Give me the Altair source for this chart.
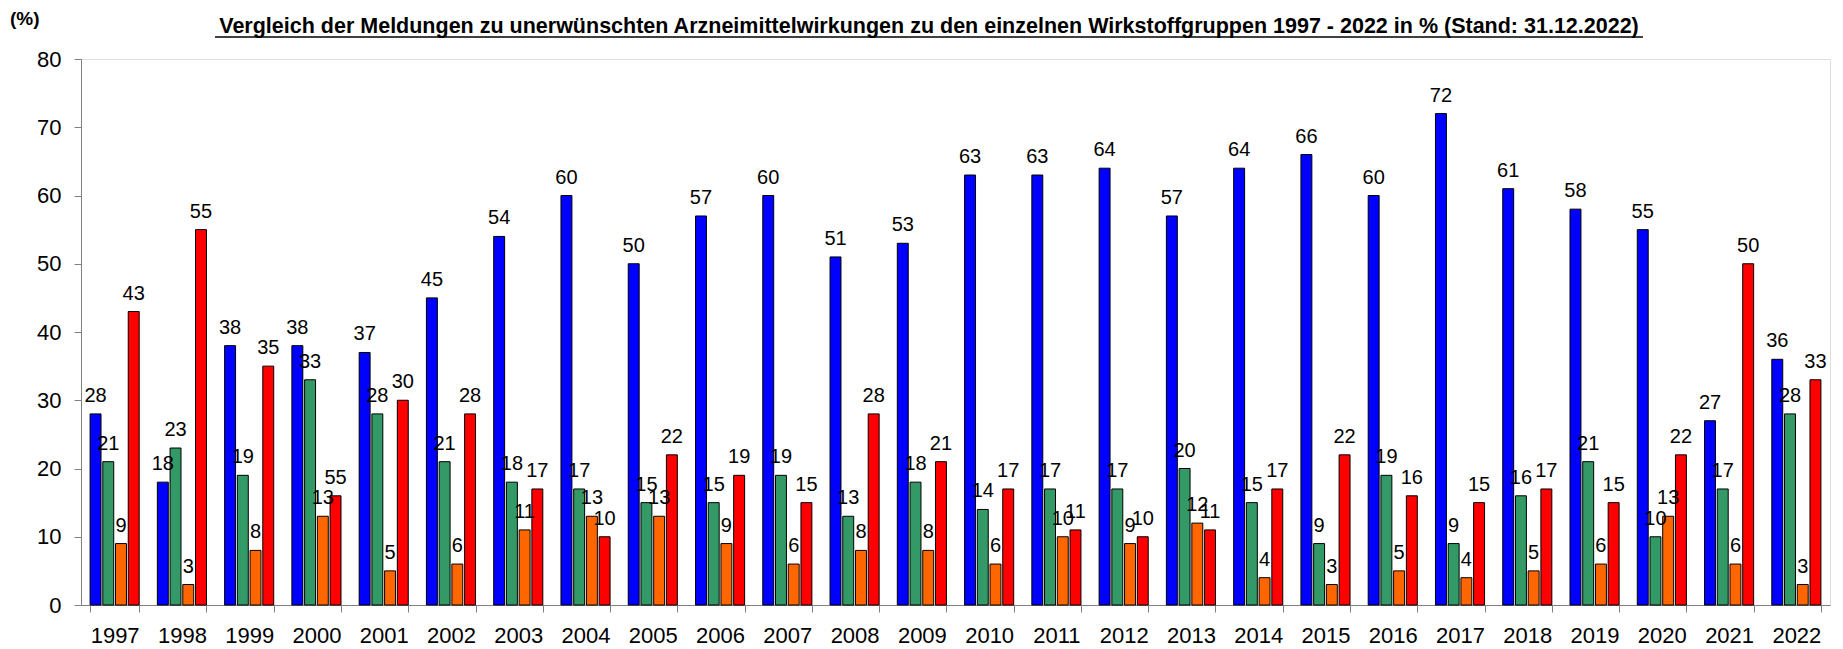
import altair as alt
import pandas as pd

years = [str(y) for y in range(1997, 2023)]
series = ["Gruppe A", "Gruppe B", "Gruppe C", "Gruppe D"]
colors = ["#0000FF", "#339966", "#FF6600", "#FF0000"]

blue = [28, 18, 38, 38, 37, 45, 54, 60, 50, 57, 60, 51, 53, 63, 63, 64, 57, 64, 66, 60, 72, 61, 58, 55, 27, 36]
green = [21, 23, 19, 33, 28, 21, 18, 17, 15, 15, 19, 13, 18, 14, 17, 17, 20, 15, 9, 19, 9, 16, 21, 10, 17, 28]
orange = [9, 3, 8, 13, 5, 6, 11, 13, 13, 9, 6, 8, 8, 6, 10, 9, 12, 4, 3, 5, 4, 5, 6, 13, 6, 3]
red = [43, 55, 35, 16, 30, 28, 17, 10, 22, 19, 15, 28, 21, 17, 11, 10, 11, 17, 22, 16, 15, 17, 15, 22, 50, 33]
# printed labels (the original shows "55" on the 2000 red bar)
red_labels = [43, 55, 35, 55, 30, 28, 17, 10, 22, 19, 15, 28, 21, 17, 11, 10, 11, 17, 22, 16, 15, 17, 15, 22, 50, 33]

title_text = ("Vergleich der Meldungen zu unerwünschten Arzneimittelwirkungen zu den einzelnen "
              "Wirkstoffgruppen 1997 - 2022 in % (Stand: 31.12.2022)")

rows = []
for s, vals, labs in [(series[0], blue, blue), (series[1], green, green),
                      (series[2], orange, orange), (series[3], red, red_labels)]:
    for y, v, l in zip(years, vals, labs):
        rows.append({"year": y, "series": s, "value": v, "label": str(l)})
df = pd.DataFrame(rows)

FONT = "Liberation Sans"

x_enc = alt.X("year:N", sort=years,
              scale=alt.Scale(paddingInner=0.27, paddingOuter=0.135),
              axis=alt.Axis(title=None, labelAngle=0, tickBand="extent", tickSize=7,
                            labelFontSize=22, labelFont=FONT, labelColor="#000000",
                            labelPadding=13, domainColor="#808080", tickColor="#808080",
                            grid=False))
xo_enc = alt.XOffset("series:N", sort=series,
                     scale=alt.Scale(paddingInner=0.14, paddingOuter=0))
y_enc = alt.Y("value:Q",
              scale=alt.Scale(domain=[0, 80], nice=False),
              axis=alt.Axis(title=None, values=list(range(0, 81, 10)), tickSize=7,
                            labelFontSize=22, labelFont=FONT, labelColor="#000000",
                            labelPadding=13, domainColor="#808080", tickColor="#808080",
                            grid=False))

base = alt.Chart(df)

bars = base.mark_bar(stroke="#000000", strokeWidth=1).encode(
    x=x_enc, xOffset=xo_enc, y=y_enc,
    color=alt.Color("series:N", sort=series,
                    scale=alt.Scale(domain=series, range=colors), legend=None),
)

labels = base.mark_text(font=FONT, fontSize=20, color="#000000",
                        baseline="alphabetic", dy=-12).encode(
    x=alt.X("year:N", sort=years), xOffset=alt.XOffset("series:N", sort=series),
    y="value:Q", text="label:N",
)

title_df = pd.DataFrame({"t": [title_text]})
title = alt.Chart(title_df).mark_text(font=FONT, fontSize=21.5, fontWeight="bold",
                                      color="#000000", align="center",
                                      baseline="alphabetic").encode(
    x=alt.value(848), y=alt.value(-26), text="t:N")
underline = alt.Chart(title_df).mark_rule(color="#000000", strokeWidth=1.5).encode(
    x=alt.value(134), x2=alt.value(1562), y=alt.value(-22))

pct = alt.Chart(pd.DataFrame({"t": ["(%)"]})).mark_text(
    font=FONT, fontSize=19, fontWeight="bold", color="#000000",
    align="left", baseline="alphabetic").encode(
    x=alt.value(-71), y=alt.value(-34), text="t:N")

chart = alt.layer(bars, labels, title, underline, pct).properties(
    width=1749, height=546,
    autosize=alt.AutoSizeParams(type="none"),
    padding={"left": 73, "top": 51, "right": 5, "bottom": 44},
).configure_view(stroke=None).configure(background="#FFFFFF")

chart.save("out.html", embed_options={"renderer": "svg", "actions": False})
